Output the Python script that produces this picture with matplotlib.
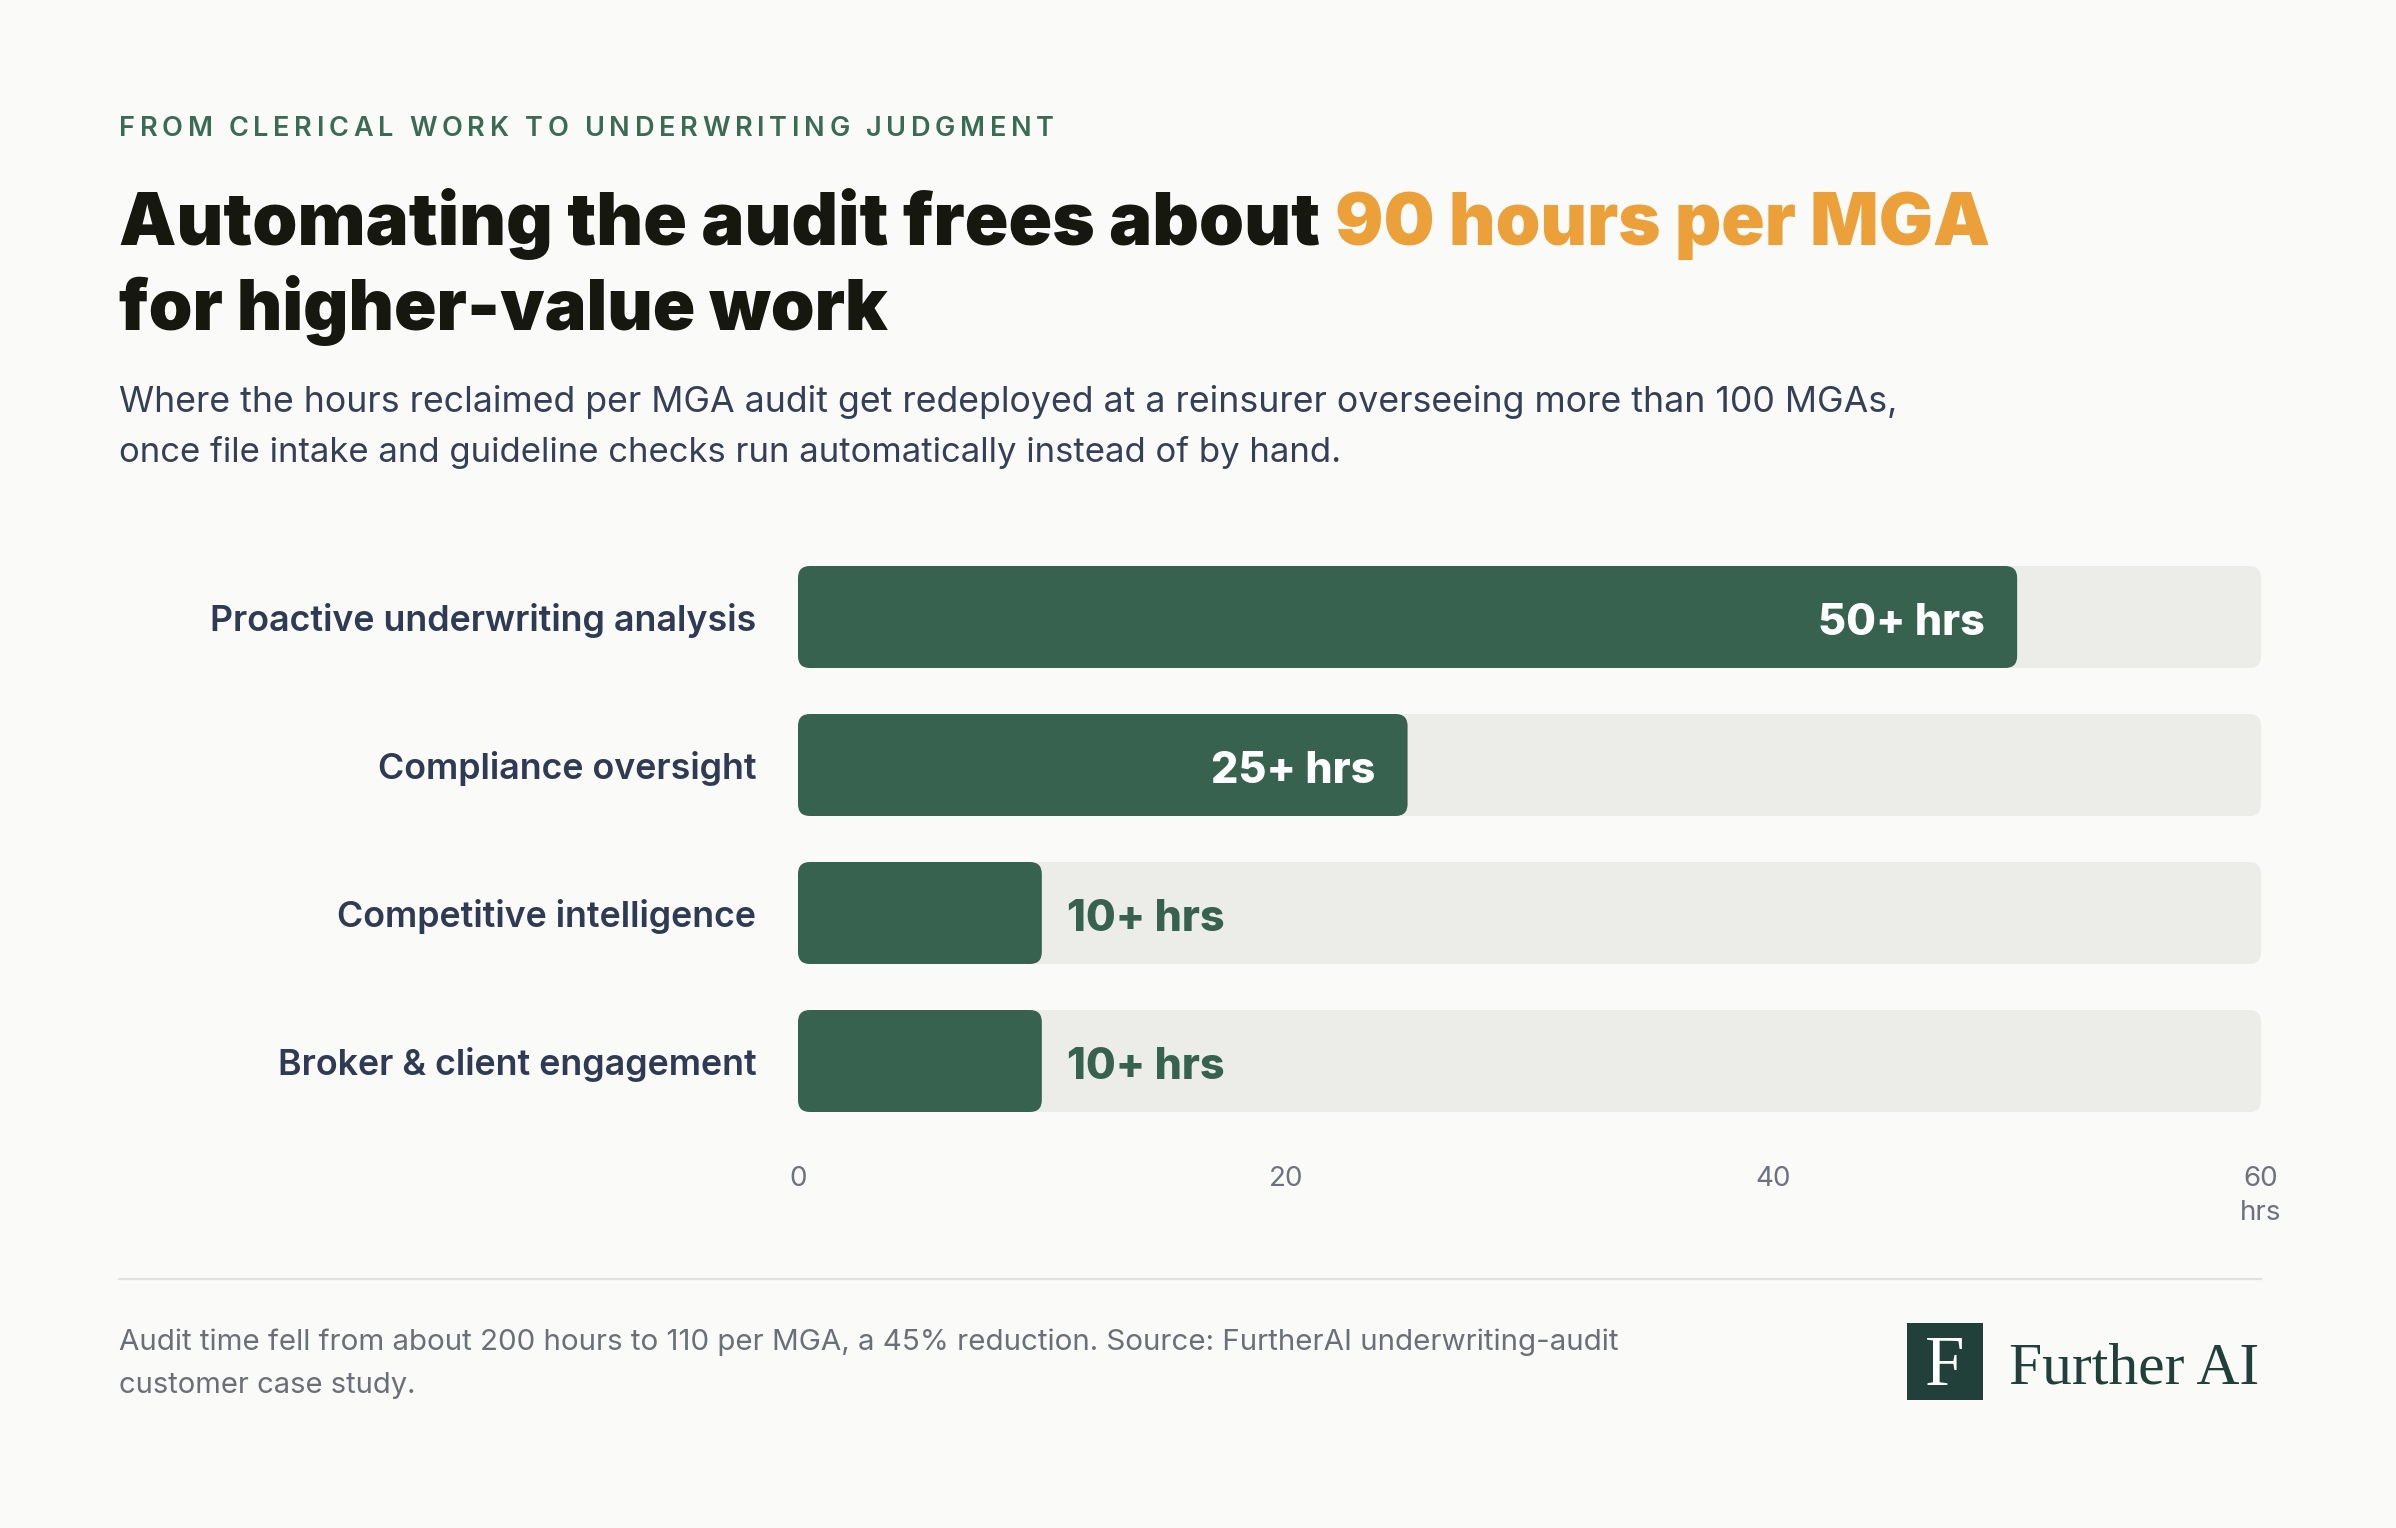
import matplotlib
matplotlib.use('Agg')
import matplotlib.pyplot as plt
from matplotlib.patches import FancyBboxPatch, Rectangle
from matplotlib.lines import Line2D

# data
categories = ['Proactive underwriting analysis', 'Compliance oversight',
              'Competitive intelligence', 'Broker & client engagement']
hours = [50, 25, 10, 10]
value_labels = ['50+ hrs', '25+ hrs', '10+ hrs', '10+ hrs']
x_ticks = [0, 20, 40, 60]
x_max = 60

eyebrow = 'FROM CLERICAL WORK TO UNDERWRITING JUDGMENT'
title_a = 'Automating the audit frees about'
title_b = '90 hours per MGA'
title_c = 'for higher-value work'
subtitle = ['Where the hours reclaimed per MGA audit get redeployed at a reinsurer overseeing more than 100 MGAs,',
            'once file intake and guideline checks run automatically instead of by hand.']
footnote = ['Audit time fell from about 200 hours to 110 per MGA, a 45% reduction. Source: FurtherAI underwriting-audit',
            'customer case study.']

# colours
BG = '#fafaf8'
GREEN = '#37624f'
TRACK = '#ecece8'
INK = '#16170f'
ORANGE = '#eca03a'
NAVY = '#2f3a55'
SUB = '#353f57'
GREY = '#6d7180'
FOOT = '#6b6f78'
LOGO = '#22403a'

plt.rcParams['font.family'] = ['Inter', 'DejaVu Sans']

W, H = 2396, 1528
fig = plt.figure(figsize=(W / 100, H / 100), dpi=100, facecolor=BG)
r = fig.canvas.get_renderer()


def put(x, y, s, target=None, **kw):
    # x, y in pixels from top left, y is baseline
    t = fig.text(x / W, 1 - y / H, s, va='baseline', **kw)
    if target:
        w = t.get_window_extent(r).width
        t.set_fontsize(t.get_fontsize() * target / w)
    return t


def width(s, **kw):
    t = fig.text(0, 0, s, **kw)
    w = t.get_window_extent(r).width
    t.remove()
    return w


def tracked(x, y, s, target, **kw):
    # letter-spaced text, spread to a target width
    bar = width('|', **kw)
    pos = [0] + [width(s[:k] + '|', **kw) - bar for k in range(1, len(s))]
    plain = width(s, **kw)
    track = (target - plain) / (len(s) - 1)
    for k, ch in enumerate(s):
        if ch != ' ':
            put(x + pos[k] + k * track, y, ch, **kw)


# header
tracked(119, 136, eyebrow, 935, fontsize=19.5, fontweight='semibold', color='#3a6b55')
put(119, 245, title_a, target=1201, fontsize=56, fontweight='black', color=INK)
put(1335, 245, title_b, target=655, fontsize=56, fontweight='black', color=ORANGE)
put(119, 330, title_c, target=769, fontsize=56, fontweight='black', color=INK)
put(119, 412, subtitle[0], target=1779, fontsize=25, color=SUB)
put(119, 462, subtitle[1], fontsize=25, color=SUB)

# bar chart
top, bot = 543, 1135
x0, x1 = 798, 2261
ax = fig.add_axes([x0 / W, 1 - bot / H, (x1 - x0) / W, (bot - top) / H])
ax.set_facecolor('none')
ax.set_xlim(0, x_max)
ax.set_ylim(len(categories) - 0.5, -0.5)
for s in ax.spines.values():
    s.set_visible(False)
ax.set_yticks(range(len(categories)), categories, fontsize=25.8,
              fontweight='semibold', color=NAVY)
ax.set_xticks(x_ticks, [str(t) for t in x_ticks], fontsize=20, color=GREY)
ax.tick_params(length=0)
ax.tick_params(axis='y', pad=30)
ax.tick_params(axis='x', pad=22)
ax.annotate('hrs', (x_max, 0), xycoords=('data', 'axes fraction'),
            xytext=(0, -56), textcoords='offset points', ha='center',
            va='center', fontsize=20, color=GREY)

ppx = (x1 - x0) / x_max
ppy = (bot - top) / len(categories)
rad = 12
rx, ry = rad / ppx, rad / ppy
bh = 102 / ppy


def rbar(xs, w, yc, color):
    p = FancyBboxPatch((xs, yc - bh / 2), w, bh,
                       boxstyle=f'round,pad=0,rounding_size={rx}',
                       mutation_aspect=ry / rx, fc=color, ec='none')
    ax.add_patch(p)


for i, (v, lab) in enumerate(zip(hours, value_labels)):
    rbar(0, x_max, i, TRACK)
    rbar(0, v, i, GREEN)
    if v >= 20:
        ax.annotate(lab, (v, i), xytext=(-23, -13), textcoords='offset points',
                    ha='right', va='baseline', color='white', fontsize=31,
                    fontweight='heavy')
    else:
        ax.annotate(lab, (v, i), xytext=(18, -13), textcoords='offset points',
                    ha='left', va='baseline', color=GREEN, fontsize=31,
                    fontweight='heavy')

# separator and footnote
fig.add_artist(Line2D([119 / W, 2261 / W], [1 - 1279 / H] * 2, color='#e2e2de', lw=1.6))
put(119, 1350, footnote[0], target=1504, fontsize=21, color=FOOT)
put(119, 1393, footnote[1], fontsize=21, color=FOOT)

# logo
fig.add_artist(Rectangle((1907 / W, 1 - 1400 / H), 76 / W, 77 / H,
                         transform=fig.transFigure, color=LOGO, lw=0))
fig.text(1945 / W, 1 - 1385 / H, 'F', ha='center', va='baseline',
         family=['Liberation Serif', 'DejaVu Serif'], fontsize=51, color='white')
put(2009, 1383, 'Further\u2009AI', target=250,
    family=['Liberation Serif', 'DejaVu Serif'], fontsize=50, color=LOGO)

fig.savefig('out.png', dpi=100, facecolor=BG)
